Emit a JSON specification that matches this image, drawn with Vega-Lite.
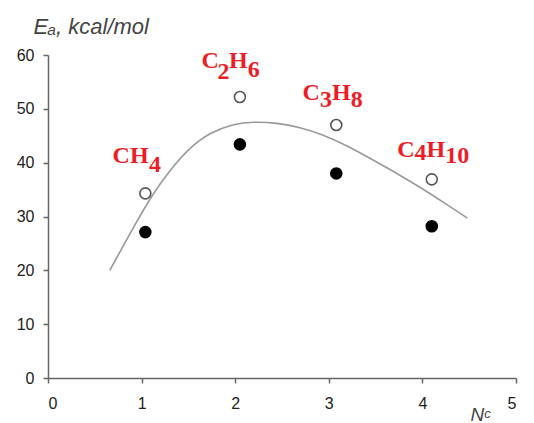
{
  "$schema": "https://vega.github.io/schema/vega-lite/v6.json",
  "width": 468,
  "height": 323,
  "autosize": "none",
  "padding": {"left": 48, "top": 55, "right": 18, "bottom": 45},
  "background": "white",
  "config": {
    "view": {"stroke": null},
    "axis": {
      "grid": false,
      "domainColor": "#666666",
      "domainWidth": 1.5,
      "tickColor": "#666666",
      "tickWidth": 1.5,
      "tickSize": 5,
      "labelFont": "Liberation Sans",
      "labelFontSize": 16,
      "labelColor": "#222222",
      "titleFont": "Liberation Sans",
      "titleFontStyle": "italic",
      "titleFontWeight": "normal",
      "titleColor": "#444444"
    }
  },
  "datasets": {
    "curve": [
      {"x": 0.66, "y": 20.0},
      {"x": 0.91, "y": 27.9},
      {"x": 1.11, "y": 34.0},
      {"x": 1.32, "y": 39.0},
      {"x": 1.52, "y": 42.9},
      {"x": 1.73, "y": 45.6},
      {"x": 1.98, "y": 47.2},
      {"x": 2.19, "y": 47.6},
      {"x": 2.45, "y": 47.4},
      {"x": 2.69, "y": 46.6},
      {"x": 2.94, "y": 45.2},
      {"x": 3.19, "y": 43.2},
      {"x": 3.44, "y": 40.8},
      {"x": 3.71, "y": 38.2},
      {"x": 3.97, "y": 35.5},
      {"x": 4.22, "y": 32.7},
      {"x": 4.48, "y": 29.7}
    ],
    "pts": [
      {"n": 1.04, "ea": 34.3, "kind": "open"},
      {"n": 2.05, "ea": 52.2, "kind": "open"},
      {"n": 3.08, "ea": 47.0, "kind": "open"},
      {"n": 4.1, "ea": 36.9, "kind": "open"},
      {"n": 1.04, "ea": 27.1, "kind": "filled"},
      {"n": 2.05, "ea": 43.4, "kind": "filled"},
      {"n": 3.08, "ea": 38.0, "kind": "filled"},
      {"n": 4.1, "ea": 28.2, "kind": "filled"}
    ],
    "labels": [
      {"x": 0.69, "y": 39.85, "t": "CH"},
      {"x": 1.08, "y": 38.3, "t": "4"},
      {"x": 1.64, "y": 57.5, "t": "C"},
      {"x": 1.81, "y": 55.6, "t": "2"},
      {"x": 1.935, "y": 57.5, "t": "H"},
      {"x": 2.135, "y": 56.0, "t": "6"},
      {"x": 2.72, "y": 51.6, "t": "C"},
      {"x": 2.906, "y": 50.3, "t": "3"},
      {"x": 3.035, "y": 51.6, "t": "H"},
      {"x": 3.235, "y": 50.3, "t": "8"},
      {"x": 3.73, "y": 41.1, "t": "C"},
      {"x": 3.915, "y": 40.5, "t": "4"},
      {"x": 4.045, "y": 41.1, "t": "H"},
      {"x": 4.245, "y": 39.85, "t": "10"}
    ],
    "sub": [
      {"x": 4.66, "y": -7.4, "t": "c"}
    ]
  },
  "layer": [
    {
      "data": {"name": "curve"},
      "mark": {"type": "line", "interpolate": "basis", "color": "#999999", "strokeWidth": 1.6},
      "encoding": {
        "x": {
          "field": "x", "type": "quantitative",
          "scale": {"domain": [0, 5], "nice": false, "zero": false},
          "axis": {
            "values": [0, 1, 2, 3, 4, 5], "format": "d",
            "labelPadding": 12,
            "title": "N",
            "titleFontSize": 19,
            "titleX": 422, "titleY": 42,
            "titleAlign": "left", "titleBaseline": "alphabetic"
          }
        },
        "y": {
          "field": "y", "type": "quantitative",
          "scale": {"domain": [0, 60], "nice": false},
          "axis": {
            "values": [0, 10, 20, 30, 40, 50, 60],
            "labelPadding": 9,
            "title": "Eₐ, kcal/mol",
            "titleFontSize": 22,
            "titleAngle": 0,
            "titleX": -15, "titleY": -22,
            "titleAlign": "left", "titleBaseline": "alphabetic"
          }
        }
      }
    },
    {
      "data": {"name": "pts"},
      "mark": {"type": "point", "shape": "circle", "filled": true, "size": 120, "strokeWidth": 1.6, "opacity": 1},
      "encoding": {
        "x": {"field": "n", "type": "quantitative"},
        "y": {"field": "ea", "type": "quantitative"},
        "fill": {"field": "kind", "type": "nominal", "scale": {"domain": ["open", "filled"], "range": ["white", "black"]}, "legend": null},
        "stroke": {"field": "kind", "type": "nominal", "scale": {"domain": ["open", "filled"], "range": ["#555555", "black"]}, "legend": null}
      }
    },
    {
      "data": {"name": "labels"},
      "mark": {"type": "text", "font": "Liberation Serif", "fontWeight": "bold", "fontSize": 24, "color": "#ee1c25", "align": "left", "baseline": "alphabetic"},
      "encoding": {
        "x": {"field": "x", "type": "quantitative"},
        "y": {"field": "y", "type": "quantitative"},
        "text": {"field": "t"}
      }
    },
    {
      "data": {"name": "sub"},
      "mark": {"type": "text", "font": "Liberation Sans", "fontStyle": "italic", "fontSize": 13, "color": "#444444", "align": "left", "baseline": "alphabetic", "clip": false},
      "encoding": {
        "x": {"field": "x", "type": "quantitative"},
        "y": {"field": "y", "type": "quantitative"},
        "text": {"field": "t"}
      }
    }
  ]
}
